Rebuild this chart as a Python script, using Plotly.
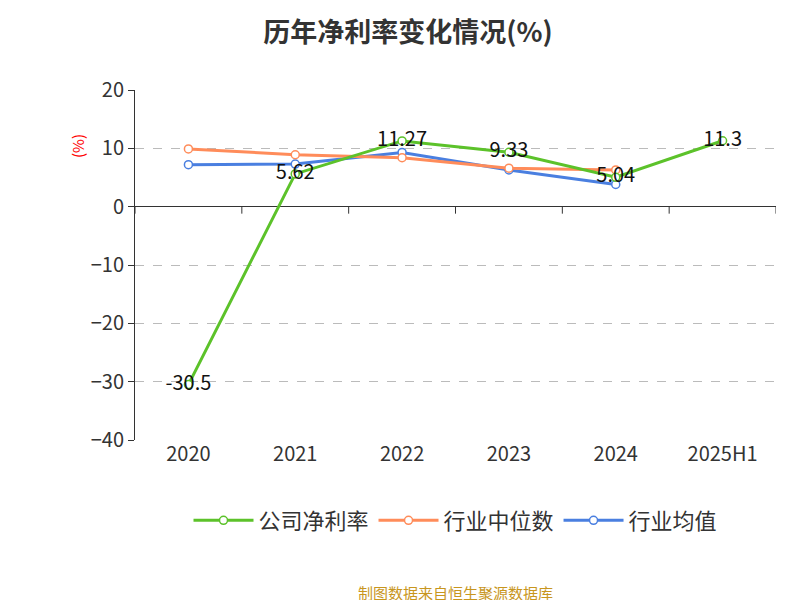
import plotly.graph_objects as go

years = ["2020", "2021", "2022", "2023", "2024", "2025H1"]
company = [-30.5, 5.62, 11.27, 9.33, 5.04, 11.3]
industry_avg = [7.2, 7.3, 9.3, 6.3, 3.8, None]
industry_median = [9.9, 8.9, 8.4, 6.6, 6.3, None]

font = "Noto Sans CJK SC"

fig = go.Figure()
fig.add_trace(go.Scatter(
    x=years, y=company, name="公司净利率", mode="lines+markers+text",
    text=[str(v) for v in company], textposition="middle center",
    textfont=dict(size=20, color="#111"),
    line=dict(color="#5cc22a", width=3),
    marker=dict(size=8, color="white", line=dict(color="#5cc22a", width=1.5))))
fig.add_trace(go.Scatter(
    x=years, y=industry_avg, name="行业均值", mode="lines+markers",
    line=dict(color="#4a7fe0", width=3),
    marker=dict(size=8, color="white", line=dict(color="#4a7fe0", width=1.5))))
fig.add_trace(go.Scatter(
    x=years, y=industry_median, name="行业中位数", mode="lines+markers",
    line=dict(color="#ff8c5a", width=3),
    marker=dict(size=8, color="white", line=dict(color="#ff8c5a", width=1.5))))
# company line drawn on top
fig.data = (fig.data[1], fig.data[2], fig.data[0])

# tick marks on the zero axis, between categories
for i in range(len(years) + 1):
    fig.add_shape(type="line", x0=i - 0.5, x1=i - 0.5, y0=0, y1=-1.2,
                  xref="x", yref="y", line=dict(color="#333", width=1))

fig.update_layout(
    width=800, height=600, plot_bgcolor="white", paper_bgcolor="white",
    margin=dict(l=127, r=32, t=82, b=168),
    font=dict(family=font, color="#333"),
    title=dict(text="<b>历年净利率变化情况(%)</b>", x=0.5, y=0.975,
               xanchor="center", font=dict(size=27, color="#333")),
    showlegend=True,
    legend=dict(orientation="h", x=0.5, xanchor="center", y=-0.17, yanchor="top",
                font=dict(size=22), traceorder="reversed", itemwidth=60),
    annotations=[
        dict(text="(%)", x=-0.11, y=0.88, xref="paper", yref="paper", showarrow=False,
             textangle=-90, font=dict(color="red", size=15)),
        dict(text="制图数据来自恒生聚源数据库", x=0.5, y=-0.47, xref="paper", yref="paper",
             showarrow=False, font=dict(color="#c8961e", size=15)),
    ],
)
fig.update_xaxes(type="category", showline=False, ticks="", showgrid=False,
                 tickfont=dict(size=20), range=[-0.5, 5.5], zeroline=False)
fig.update_yaxes(range=[-40, 20], dtick=10, showline=True, linecolor="#333",
                 ticks="outside", ticklen=6, tickcolor="#333",
                 tickfont=dict(size=20), showgrid=True, gridcolor="#bbb",
                 griddash="dash", zeroline=True, zerolinecolor="#333",
                 zerolinewidth=1)

fig.write_html("out.html")
